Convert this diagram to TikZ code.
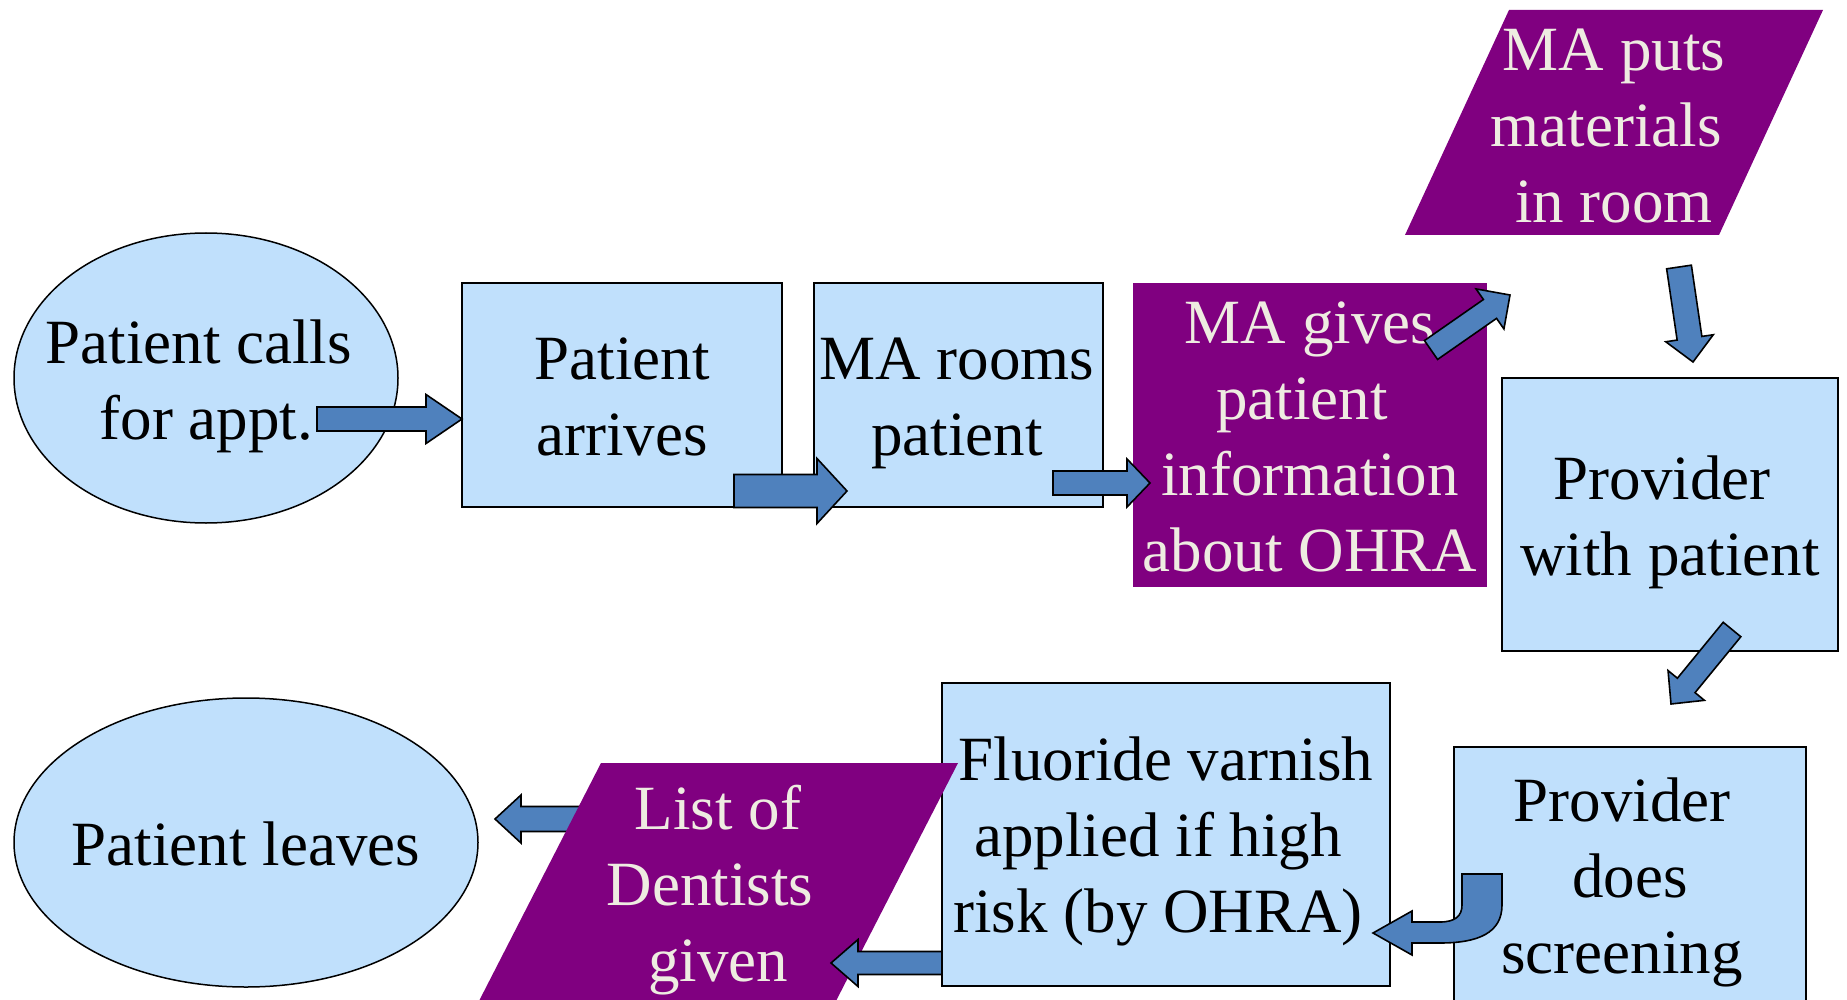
\documentclass[tikz,border=0pt]{standalone}
\usepackage{fontspec}
\setmainfont{Liberation Serif}
\usetikzlibrary{calc,shapes.geometric}
\definecolor{boxblue}{RGB}{192,224,252}
\definecolor{arrowblue}{RGB}{79,129,189}
\definecolor{ohrapurple}{RGB}{128,0,128}
\definecolor{ohratext}{RGB}{238,236,225}
\tikzset{
  bluebox/.style={draw=black, line width=2pt, fill=boxblue, inner sep=0pt, rectangle},
  blueoval/.style={draw=black, line width=1.5pt, fill=boxblue, ellipse, inner sep=0pt},
  purplebox/.style={fill=ohrapurple, inner sep=0pt, rectangle},
  purpleshape/.style={fill=ohrapurple},
  txt/.style={font=\fontsize{63}{76}\selectfont, align=center, inner sep=0pt, text=black},
  wtxt/.style={txt, text=ohratext},
  barrow/.style={draw=black, line width=1.6pt, fill=arrowblue, line join=miter},
}
% a space that survives at a line's end or start
\newcommand\keepsp{\rule{0.25em}{0pt}}
% block arrow: tail, tip, half shaft, half head, head length
\newcommand\blockarrow[5]{%
  \draw[barrow] ($(#1)!#3!90:(#2)$)
    -- ($($(#2)!#5!(#1)$)!#3!-90:(#1)$)
    -- ($($(#2)!#5!(#1)$)!#4!-90:(#1)$)
    -- (#2)
    -- ($($(#2)!#5!(#1)$)!#4!90:(#1)$)
    -- ($($(#2)!#5!(#1)$)!#3!90:(#1)$)
    -- ($(#1)!#3!-90:(#2)$) -- cycle;}
\begin{document}
\begin{tikzpicture}[x=1pt,y=-1pt]
\useasboundingbox (0,0) rectangle (1847,1000);
\clip (0,0) rectangle (1847,1000);
\fill[white] (0,0) rectangle (1847,1000);

% arrow endpoints
\coordinate (a1s) at (317,419);   \coordinate (a1e) at (462,419);
\coordinate (a2s) at (734,491);   \coordinate (a2e) at (847,491);
\coordinate (a3s) at (1053,483);  \coordinate (a3e) at (1150,483);
\coordinate (a4s) at (1431,350);  \coordinate (a4e) at (1510,295);
\coordinate (a5s) at (1679,267);  \coordinate (a5e) at (1693,362);
\coordinate (a6s) at (1732,629.5);\coordinate (a6e) at (1671,704);
\coordinate (a8s) at (942,963);   \coordinate (a8e) at (831,963);
\coordinate (a9s) at (590,819);   \coordinate (a9e) at (495,819);

% arrow hidden behind the list parallelogram
\blockarrow{a9s}{a9e}{12.5pt}{24pt}{26pt}

% shapes
\node[blueoval, minimum width=384pt, minimum height=290pt] (calls) at (206,378) {};
\node[bluebox, minimum width=320pt, minimum height=224pt] (arrives) at (622,395) {};
\node[bluebox, minimum width=289pt, minimum height=224pt] (rooms) at (958.5,395) {};
\node[purplebox, minimum width=354pt, minimum height=304pt] (gives) at (1310,435) {};
\fill[purpleshape] (1509,10) -- (1823,10) -- (1719,235) -- (1405,235) -- cycle;
\node[bluebox, minimum width=336pt, minimum height=273pt] (withpat) at (1670,514.5) {};
\node[bluebox, minimum width=352pt, minimum height=263pt] (screen) at (1630,878.5) {};
\node[bluebox, minimum width=448pt, minimum height=303pt] (fluor) at (1166,834.5) {};
\fill[purpleshape] (601,763) -- (958,763) -- (816,1040) -- (459,1040) -- cycle;
\node[blueoval, minimum width=464pt, minimum height=289pt] (leaves) at (246,842.5) {};

% texts
\node[txt] (tcalls) at (206.5,386) {\strut Patient calls\keepsp\\\strut for appt.};
\node[txt] (tarrives) at (622,402) {\strut Patient\\\strut arrives};
\node[txt] (trooms) at (957,402) {\strut MA rooms\\\strut patient};
\node[wtxt] (tgives) at (1310,442) {\strut MA gives\\\strut patient\keepsp\\\strut information\\\strut about OHRA};
\node[wtxt] (tputs) at (1614,131.5) {\strut MA puts\\\strut materials\keepsp\\\strut in room};
\node[txt] (twithpat) at (1670,522) {\strut Provider\keepsp\\\strut with patient};
\node[txt] (tscreen) at (1622,882) {\strut Provider\\\strut\keepsp does\\\strut screening};
\node[txt] (tfluor) at (1166,841.5) {\strut Fluoride varnish\\\strut applied if high\keepsp\\\strut risk (by OHRA)\keepsp};
\node[wtxt] (tlist) at (718,890) {\strut List of\\\strut Dentists\keepsp\\\strut given};
\node[txt] (tleaves) at (246,850) {\strut Patient leaves};

% arrows on top
\blockarrow{a1s}{a1e}{12pt}{24.5pt}{36pt}
\blockarrow{a2s}{a2e}{16.5pt}{32.5pt}{30pt}
\blockarrow{a3s}{a3e}{12pt}{24pt}{23pt}
\blockarrow{a4s}{a4e}{11.5pt}{24.4pt}{24.4pt}
\blockarrow{a5s}{a5e}{12.5pt}{24pt}{24pt}
\blockarrow{a6s}{a6e}{11.4pt}{23.5pt}{24pt}
\blockarrow{a8s}{a8e}{11.5pt}{23.5pt}{27pt}
% curved arrow from screening to fluoride
\draw[barrow] (1462,874) -- (1502,874) -- (1502,905)
  .. controls (1502,933) and (1478,943) .. (1440,943) -- (1412,943)
  -- (1412,955) -- (1373,933) -- (1412,911) -- (1412,922) -- (1440,922)
  .. controls (1455,922) and (1462,916) .. (1462,905) -- cycle;
\end{tikzpicture}
\end{document}
